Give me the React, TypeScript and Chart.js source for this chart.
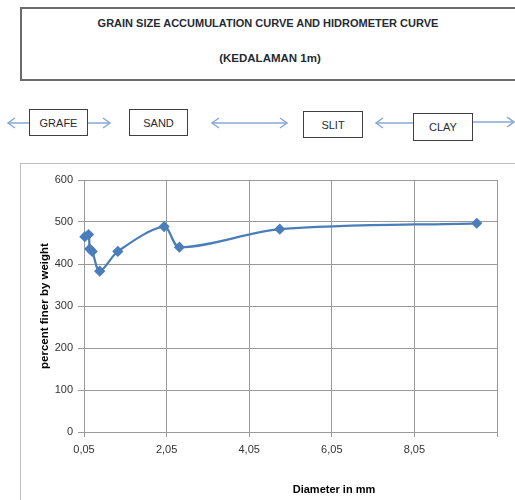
import React, { useEffect, useRef } from 'react';
import { Chart, registerables } from 'chart.js';

Chart.register(...registerables);

const diameters = [0.07, 0.16, 0.19, 0.25, 0.43, 0.87, 1.99, 2.36, 4.79, 9.56];
const percentFiner = [465, 470, 436, 430, 383, 430, 489, 440, 483, 497];
const xTicks = [0.05, 2.05, 4.05, 6.05, 8.05, 10.05];
const yTicks = [0, 100, 200, 300, 400, 500, 600];
const titleLines = ['GRAIN SIZE ACCUMULATION CURVE AND HIDROMETER CURVE', '(KEDALAMAN 1m)'];
const classLabels = ['GRAFE', 'SAND', 'SLIT', 'CLAY'];
const xTitle = 'Diameter in mm';
const yTitle = 'percent finer by weight';

const FONT = '"Liberation Sans", Arial, sans-serif';
const ARROW = '#86a8d6';
const TEXT = '#262b33';

function Box({ left, top, width, height, text }: { left: number; top: number; width: number; height: number; text: string }) {
  return (
    <div
      style={{
        position: 'absolute',
        left,
        top,
        width,
        height,
        boxSizing: 'border-box',
        border: '1.5px solid #404040',
        display: 'flex',
        alignItems: 'center',
        justifyContent: 'center',
        fontSize: 11,
        color: TEXT,
      }}
    >
      {text}
    </div>
  );
}

export default function App() {
  const ref = useRef<HTMLCanvasElement | null>(null);

  useEffect(() => {
    if (!ref.current) return;
    const chart = new Chart(ref.current, {
      type: 'scatter',
      data: {
        datasets: [
          {
            data: diameters.map((d, i) => ({ x: d, y: percentFiner[i] })),
            showLine: true,
            borderColor: '#4a7ebb',
            backgroundColor: '#4a7ebb',
            borderWidth: 2.25,
            tension: 0.3,
            pointStyle: 'rectRot',
            pointRadius: 4,
            pointHoverRadius: 4,
            clip: false,
          },
        ],
      },
      options: {
        animation: false,
        responsive: false,
        devicePixelRatio: 1,
        layout: { padding: { left: 0, right: 18, top: 17, bottom: 0 } },
        plugins: { legend: { display: false }, tooltip: { enabled: false } },
        scales: {
          x: {
            type: 'linear',
            min: xTicks[0],
            max: xTicks[xTicks.length - 1],
            afterBuildTicks: (s: any) => {
              s.ticks = xTicks.map((v) => ({ value: v }));
            },
            afterFit: (s: any) => {
              s.height = 68;
            },
            ticks: {
              autoSkip: false,
              maxRotation: 0,
              padding: 6,
              color: '#333',
              font: { family: FONT, size: 11 },
              callback: (v: any) => (v === xTicks[xTicks.length - 1] ? '' : Number(v).toFixed(2).replace('.', ',')),
            },
            grid: { color: '#9a9a9a', tickLength: 5 },
            border: { color: '#9a9a9a' },
          },
          y: {
            min: yTicks[0],
            max: yTicks[yTicks.length - 1],
            afterBuildTicks: (s: any) => {
              s.ticks = yTicks.map((v) => ({ value: v }));
            },
            afterFit: (s: any) => {
              s.width = 64;
            },
            ticks: {
              padding: 5,
              color: '#333',
              font: { family: FONT, size: 11 },
            },
            grid: { color: '#9a9a9a', tickLength: 6 },
            border: { color: '#9a9a9a' },
            title: {
              display: true,
              text: yTitle,
              color: '#000',
              font: { family: FONT, size: 11.5, weight: 'bold' },
              padding: { top: 18, bottom: 0 },
            },
          },
        },
      },
    } as any);
    return () => chart.destroy();
  }, []);

  const arrowHead = (x: number, y: number, dir: number) =>
    `M ${x + dir * 7} ${y - 5} L ${x} ${y} L ${x + dir * 7} ${y + 5}`;

  return (
    <div
      style={{
        position: 'fixed',
        left: 0,
        top: 0,
        width: 515,
        height: 500,
        overflow: 'hidden',
        background: '#fff',
        fontFamily: FONT,
      }}
    >
      {/* Title box */}
      <div
        style={{
          position: 'absolute',
          left: 20,
          top: 7,
          width: 520,
          height: 74,
          boxSizing: 'border-box',
          border: '2px solid #6b6b6b',
        }}
      />
      <div style={{ position: 'absolute', left: 20, width: 496, top: 17, textAlign: 'center', fontSize: 11, fontWeight: 'bold', color: TEXT }}>
        {titleLines[0]}
      </div>
      <div style={{ position: 'absolute', left: 20, width: 500, top: 52, textAlign: 'center', fontSize: 11.5, fontWeight: 'bold', color: TEXT }}>
        {titleLines[1]}
      </div>

      {/* Class boxes */}
      <Box left={29} top={109} width={59} height={27} text={classLabels[0]} />
      <Box left={129} top={109} width={59} height={27} text={classLabels[1]} />
      <Box left={303} top={111} width={60} height={27} text={classLabels[2]} />
      <Box left={413} top={113} width={60} height={28} text={classLabels[3]} />

      <svg style={{ position: 'absolute', left: 0, top: 0 }} width={515} height={160}>
        <g stroke={ARROW} strokeWidth={1.5} fill="none">
          <line x1={8} y1={123} x2={29} y2={123} />
          <path d={arrowHead(8, 123, 1)} />
          <line x1={88} y1={123} x2={110} y2={123} />
          <path d={arrowHead(110, 123, -1)} />
          <line x1={212} y1={123} x2={287} y2={123} />
          <path d={arrowHead(212, 123, 1)} />
          <path d={arrowHead(287, 123, -1)} />
          <line x1={376} y1={123} x2={413} y2={123} />
          <path d={arrowHead(376, 123, 1)} />
          <line x1={473} y1={122} x2={514} y2={122} />
          <path d={arrowHead(514, 122, -1)} />
        </g>
      </svg>

      {/* Chart box */}
      <div
        style={{
          position: 'absolute',
          left: 20,
          top: 163,
          width: 520,
          height: 360,
          boxSizing: 'border-box',
          border: '1px solid #bfbfbf',
        }}
      />
      <canvas ref={ref} width={495} height={337} style={{ position: 'absolute', left: 20, top: 163, width: 495, height: 337 }} />
      <div style={{ position: 'absolute', left: 234, width: 200, top: 483, textAlign: 'center', fontSize: 11, fontWeight: 'bold', color: '#000' }}>
        {xTitle}
      </div>
    </div>
  );
}
